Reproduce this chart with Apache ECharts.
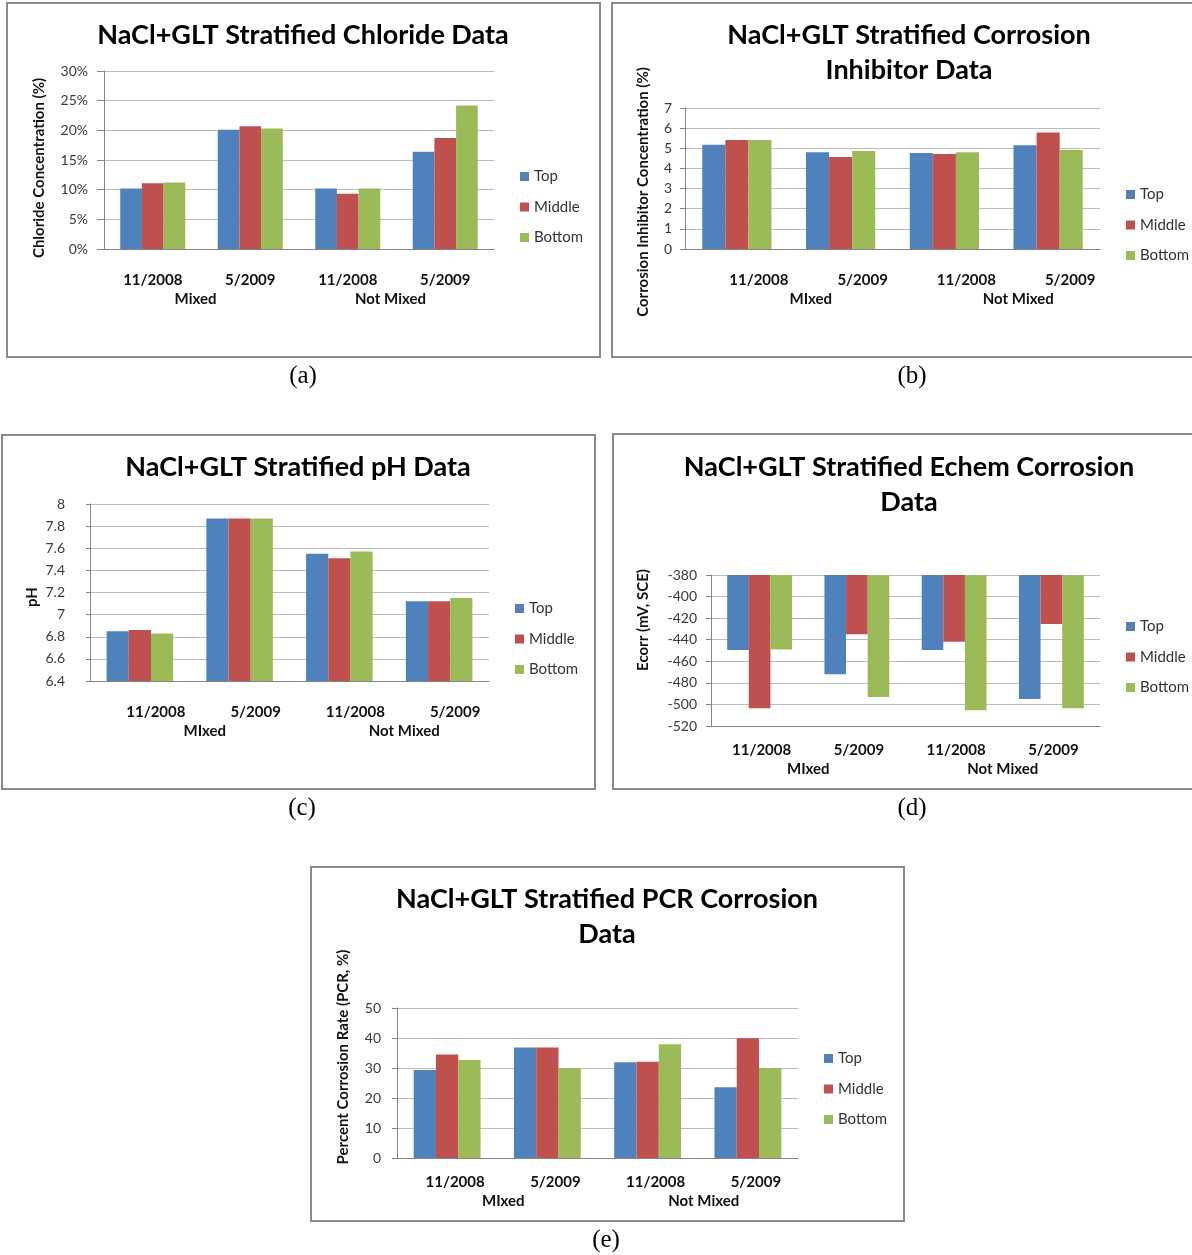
<!DOCTYPE html>
<html>
<head>
<meta charset="utf-8">
<title>NaCl+GLT Stratified Data</title>
<script src="https://cdn.jsdelivr.net/npm/echarts@6/dist/echarts.min.js"></script>
<style>
  html, body { margin: 0; padding: 0; background: #ffffff; }
  #chart { width: 1192px; height: 1255px; }
</style>
</head>
<body>
<div id="chart"></div>
<script>
// ---- data ----
const categories = ['11/2008', '5/2009', '11/2008', '5/2009'];
const groupsA = ['Mixed', 'Not Mixed'];
const groupsB = ['MIxed', 'Not Mixed'];
const seriesNames = ['Top', 'Middle', 'Bottom'];

// (a) chloride concentration, %
const chlorideTop = [10.2, 20.1, 10.2, 16.4];
const chlorideMiddle = [11.1, 20.7, 9.3, 18.7];
const chlorideBottom = [11.2, 20.3, 10.2, 24.2];

// (b) corrosion inhibitor concentration, %
const inhibitorTop = [5.18, 4.80, 4.76, 5.15];
const inhibitorMiddle = [5.41, 4.57, 4.72, 5.78];
const inhibitorBottom = [5.41, 4.87, 4.80, 4.92];

// (c) pH
const phTop = [6.85, 7.87, 7.55, 7.12];
const phMiddle = [6.86, 7.87, 7.51, 7.12];
const phBottom = [6.83, 7.87, 7.57, 7.15];

// (d) Ecorr, mV vs SCE
const ecorrTop = [-449.5, -472, -449.5, -495];
const ecorrMiddle = [-503.5, -435, -442, -425.5];
const ecorrBottom = [-449, -493, -505.5, -503.5];

// (e) percent corrosion rate
const pcrTop = [29.3, 36.8, 31.9, 23.6];
const pcrMiddle = [34.5, 36.8, 32.1, 39.9];
const pcrBottom = [32.7, 30.0, 37.9, 30.0];

// ---- panel layout ----
const COLORS = ['#4F81BD', '#C0504D', '#9BBB59'];
const FONT = 'Lato';

const panels = [
  {
    title: 'NaCl+GLT Stratified Chloride Data', titleX: 303, titleTop: 18,
    yName: 'Chloride Concentration (%)', yNameX: 39, yNameY: 168,
    grid: { left: 104, top: 71, width: 390, height: 178 },
    y: { min: 0, max: 30, interval: 5, fmt: '{value}%', margin: 16, tick: 7 },
    values: [chlorideTop, chlorideMiddle, chlorideBottom],
    groups: groupsA, shift: 0, groupShift: -6, labelMargin: 24,
    legend: { left: 520, top: 169 },
    frame: { x: 7, y: 3, w: 593, h: 354 },
    caption: '(a)', capX: 303, capY: 376
  },
  {
    title: 'NaCl+GLT Stratified Corrosion\nInhibitor Data', titleX: 909, titleTop: 18,
    yName: 'Corrosion Inhibitor Concentration (%)', yNameX: 643, yNameY: 192,
    grid: { left: 685, top: 108, width: 415, height: 141 },
    y: { min: 0, max: 7, interval: 1, fmt: '{value}', margin: 13, tick: 5 },
    values: [inhibitorTop, inhibitorMiddle, inhibitorBottom],
    groups: groupsB, shift: 22, groupShift: 22, labelMargin: 24,
    legend: { left: 1126, top: 187 },
    frame: { x: 612, y: 3, w: 600, h: 354 },
    caption: '(b)', capX: 912, capY: 376
  },
  {
    title: 'NaCl+GLT Stratified pH Data', titleX: 298, titleTop: 450,
    yName: 'pH', yNameX: 32, yNameY: 597,
    grid: { left: 90, top: 504, width: 399, height: 177 },
    y: { min: 6.4, max: 8, interval: 0.2, fmt: '{value}', margin: 25, tick: 4 },
    values: [phTop, phMiddle, phBottom],
    groups: groupsB, shift: 16, groupShift: 15, labelMargin: 24,
    legend: { left: 515, top: 601 },
    frame: { x: 2, y: 435, w: 593, h: 354 },
    caption: '(c)', capX: 302, capY: 808
  },
  {
    title: 'NaCl+GLT Stratified Echem Corrosion\nData', titleX: 909, titleTop: 450,
    yName: 'Ecorr (mV, SCE)', yNameX: 643, yNameY: 620,
    grid: { left: 711, top: 575, width: 389, height: 151 },
    y: { min: -520, max: -380, interval: 20, fmt: '{value}', margin: 14, tick: 5 },
    values: [ecorrTop, ecorrMiddle, ecorrBottom],
    groups: groupsB, shift: 2, groupShift: 0, labelMargin: 17,
    legend: { left: 1126, top: 619 },
    frame: { x: 613, y: 434, w: 600, h: 355 },
    caption: '(d)', capX: 912, capY: 808
  },
  {
    title: 'NaCl+GLT Stratified PCR Corrosion\nData', titleX: 607, titleTop: 882,
    yName: 'Percent Corrosion Rate (PCR, %)', yNameX: 343, yNameY: 1057,
    grid: { left: 397, top: 1008, width: 401, height: 150 },
    y: { min: 0, max: 50, interval: 10, fmt: '{value}', margin: 16, tick: 5 },
    values: [pcrTop, pcrMiddle, pcrBottom],
    groups: groupsB, shift: 8, groupShift: 6, labelMargin: 17,
    legend: { left: 824, top: 1051 },
    frame: { x: 311, y: 867, w: 593, h: 354 },
    caption: '(e)', capX: 606, capY: 1240
  }
];

// horizontal nudge of a centred label via asymmetric padding
function nudge(px) {
  return px >= 0 ? [0, 0, 0, 2 * px] : [0, -2 * px, 0, 0];
}

const option = {
  animation: false,
  backgroundColor: '#ffffff',
  textStyle: { fontFamily: FONT },
  title: [], legend: [], grid: [], xAxis: [], yAxis: [], series: [], graphic: []
};

panels.forEach(function (p, i) {
  option.title.push({
    text: p.title, left: p.titleX, top: p.titleTop, textAlign: 'center', padding: 0,
    textStyle: { fontFamily: FONT, fontSize: 27, fontWeight: 'bold', color: '#000', lineHeight: 35 }
  });

  // main plot grid and a twin grid carrying the group labels
  option.grid.push(Object.assign({ containLabel: false }, p.grid));
  option.grid.push(Object.assign({ containLabel: false }, p.grid));
  const gMain = 2 * i, gGroup = 2 * i + 1;

  option.xAxis.push({
    type: 'category', gridIndex: gMain, data: categories, position: 'bottom',
    axisLine: { show: true, onZero: false, lineStyle: { color: '#868686', width: 1 } },
    axisTick: { show: false },
    axisLabel: {
      interval: 0, margin: p.labelMargin, padding: nudge(p.shift),
      fontFamily: FONT, fontSize: 15, fontWeight: 'bold', color: '#111'
    },
    splitLine: { show: false }
  });
  option.xAxis.push({
    type: 'category', gridIndex: gGroup, data: p.groups, position: 'bottom',
    axisLine: { show: false }, axisTick: { show: false },
    axisLabel: {
      interval: 0, margin: p.labelMargin + 19, padding: nudge(p.groupShift),
      fontFamily: FONT, fontSize: 15, fontWeight: 'bold', color: '#111'
    },
    splitLine: { show: false }
  });

  option.yAxis.push({
    type: 'value', gridIndex: gMain, min: p.y.min, max: p.y.max, interval: p.y.interval,
    axisLine: { show: true, lineStyle: { color: '#868686', width: 1 } },
    axisTick: { show: true, length: p.y.tick, lineStyle: { color: '#868686' } },
    axisLabel: { formatter: p.y.fmt, margin: p.y.margin, fontFamily: FONT, fontSize: 14, color: '#3a3a3a' },
    splitLine: { show: true, lineStyle: { color: '#bdbdbd', width: 1.2 } }
  });
  option.yAxis.push({ type: 'value', gridIndex: gGroup, show: false, min: 0, max: 1 });

  seriesNames.forEach(function (name, k) {
    option.series.push({
      type: 'bar', name: name, xAxisIndex: gMain, yAxisIndex: gMain,
      data: p.values[k], barGap: '0%', barCategoryGap: '33.3%', clip: true,
      itemStyle: { color: COLORS[k] }
    });
  });

  option.legend.push({
    orient: 'vertical', left: p.legend.left, top: p.legend.top, padding: 0,
    data: seriesNames, icon: 'rect', itemWidth: 9, itemHeight: 9, itemGap: 15.5,
    selectedMode: false,
    textStyle: { fontFamily: FONT, fontSize: 15, color: '#333' }
  });

  // panel frame
  option.graphic.push({
    type: 'rect', silent: true,
    shape: { x: p.frame.x, y: p.frame.y, width: p.frame.w, height: p.frame.h },
    style: { fill: 'none', stroke: '#8a8a8a', lineWidth: 2 }
  });
  // vertical y-axis title
  option.graphic.push({
    type: 'text', silent: true, x: p.yNameX, y: p.yNameY, rotation: Math.PI / 2,
    style: {
      text: p.yName, fill: '#111', align: 'center', verticalAlign: 'middle',
      font: 'bold 15px ' + FONT
    }
  });
  // panel caption
  option.graphic.push({
    type: 'text', silent: true, x: p.capX, y: p.capY,
    style: {
      text: p.caption, fill: '#000', align: 'center', verticalAlign: 'middle',
      font: '25px "Liberation Serif", "Times New Roman", serif'
    }
  });
});

const chart = echarts.init(document.getElementById('chart'), null, { renderer: 'canvas' });
chart.setOption(option);
</script>
</body>
</html>
